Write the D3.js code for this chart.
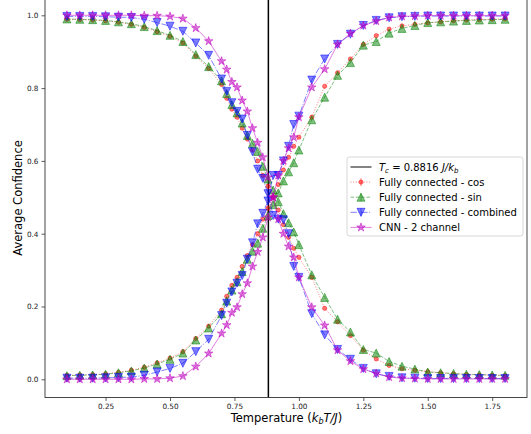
<!DOCTYPE html>
<html>
<head>
<meta charset="utf-8">
<script src="https://cdn.jsdelivr.net/npm/d3@7"></script>
<style>
  body { margin: 0; background: #fff; }
  svg { display: block; }
  text { font-family: "DejaVu Sans", sans-serif; }
</style>
</head>
<body>
<svg id="chart" width="531" height="434"></svg>
<script>
// Temperatures sampled (finer spacing around the critical point)
const temperatures = [0.10,0.15,0.20,0.25,0.30,0.35,0.40,0.45,0.50,0.55,0.60,0.65,0.70,0.72,0.74,0.76,0.78,0.80,0.82,0.84,0.86,0.88,0.90,0.92,0.94,0.96,0.98,1.00,1.05,1.10,1.15,1.20,1.25,1.30,1.35,1.40,1.45,1.50,1.55,1.60,1.65,1.70,1.75,1.80];

// Fully connected - cos : confidence for the ordered (low) and disordered (high) phase
const cosLow  = [.989,.988,.987,.985,.981,.975,.967,.955,.942,.924,.888,.854,.810,.772,.742,.720,.690,.660,.630,.600,.560,.530,.500,.465,.425,.390,.360,.335,.280,.195,.158,.120,.080,.056,.038,.029,.025,.021,.018,.015,.013,.012,.011,.010];
const cosHigh = [.011,.012,.013,.015,.019,.025,.033,.045,.058,.076,.112,.146,.190,.228,.258,.280,.310,.340,.370,.400,.440,.470,.500,.535,.575,.610,.640,.665,.720,.805,.842,.880,.920,.944,.962,.971,.975,.979,.982,.985,.987,.988,.989,.990];

// Fully connected - sin
const sinLow  = [.990,.989,.988,.986,.982,.977,.969,.958,.945,.928,.892,.859,.820,.785,.755,.732,.704,.670,.648,.626,.585,.550,.520,.488,.455,.430,.405,.370,.287,.225,.165,.130,.082,.072,.049,.036,.028,.020,.018,.016,.014,.013,.012,.011];
const sinHigh = [.010,.011,.012,.014,.018,.023,.031,.042,.055,.072,.108,.141,.180,.215,.245,.268,.296,.330,.352,.374,.415,.450,.480,.512,.545,.570,.595,.630,.713,.775,.835,.870,.918,.928,.951,.964,.972,.980,.982,.984,.986,.987,.988,.989];

// Fully connected - combined
const combLow  = [.997,.997,.997,.996,.995,.994,.989,.980,.970,.956,.924,.890,.825,.791,.760,.736,.715,.670,.625,.577,.552,.510,.450,.440,.438,.400,.310,.280,.180,.122,.082,.055,.030,.015,.008,.004,.003,.002,.002,.002,.002,.002,.002,.002];
const combHigh = [.003,.003,.003,.004,.005,.006,.011,.020,.030,.044,.076,.110,.175,.209,.240,.264,.285,.330,.375,.427,.456,.490,.560,.560,.600,.640,.700,.723,.822,.880,.920,.948,.972,.986,.993,.996,.997,.998,.998,.998,.998,.998,.998,.998];

// CNN - 2 channel
const cnnLow  = [1.000,1.000,1.000,1.000,1.000,1.000,.999,.999,.997,.991,.965,.929,.874,.851,.817,.802,.766,.736,.690,.650,.610,.555,.500,.440,.400,.365,.335,.280,.198,.148,.080,.050,.028,.016,.006,.003,.002,.001,.001,.001,.001,.001,.001,.001];
const cnnHigh = [.000,.000,.000,.000,.000,.000,.001,.001,.003,.009,.035,.071,.126,.149,.183,.198,.234,.264,.310,.350,.390,.445,.500,.560,.600,.635,.665,.720,.802,.852,.920,.950,.972,.984,.994,.997,.998,.999,.999,.999,.999,.999,.999,.999];

const criticalT = 0.8816;
const xTickValues = [0.25, 0.50, 0.75, 1.00, 1.25, 1.50, 1.75];
const yTickValues = [0.0, 0.2, 0.4, 0.6, 0.8, 1.0];
const seriesNames = ["Fully connected - cos", "Fully connected - sin", "Fully connected - combined", "CNN - 2 channel"];

const svg = d3.select("#chart");

const x = d3.scaleLinear().domain([0.015, 1.885]).range([45, 527]);
const y = d3.scaleLinear().domain([-0.05, 1.05]).range([397.5, -2.9]);

// marker shapes
function triUp(s) { const h = s / 2; return `M0,${-h}L${h},${h}L${-h},${h}Z`; }
function triDown(s) { const h = s / 2; return `M0,${h}L${h},${-h}L${-h},${-h}Z`; }
function star(s) {
  const R = s / 2, r = R * 0.381966;
  let p = "";
  for (let i = 0; i < 10; i++) {
    const a = -Math.PI / 2 + i * Math.PI / 5;
    const rr = i % 2 === 0 ? R : r;
    p += (i === 0 ? "M" : "L") + (rr * Math.cos(a)).toFixed(2) + "," + (rr * Math.sin(a)).toFixed(2);
  }
  return p + "Z";
}
function dot(s) { const r = s / 2; return `M${r},0A${r},${r} 0 1,1 ${-r},0A${r},${r} 0 1,1 ${r},0Z`; }

const styles = [
  { color: "#ff0000", dash: "1,1.65", marker: dot(4.2), lw: 1 },
  { color: "#008000", dash: "3.7,1.6", marker: triUp(8), lw: 1 },
  { color: "#0000ff", dash: "6.4,1.6,1,1.6", marker: triDown(8), lw: 1 },
  { color: "#bf00bf", dash: null, marker: star(9), lw: 1 }
];

const seriesData = [
  [cosLow, cosHigh],
  [sinLow, sinHigh],
  [combLow, combHigh],
  [cnnLow, cnnHigh]
];

// clip to the axes area
svg.append("defs").append("clipPath").attr("id", "plotclip")
  .append("rect").attr("x", x.range()[0]).attr("y", 0)
  .attr("width", x.range()[1] - x.range()[0]).attr("height", y.range()[0]);

const plot = svg.append("g").attr("clip-path", "url(#plotclip)");

// critical temperature line
plot.append("line")
  .attr("x1", x(criticalT)).attr("x2", x(criticalT))
  .attr("y1", y(-0.05)).attr("y2", y(1.05))
  .attr("stroke", "#000").attr("stroke-width", 1.5);

const line = d3.line().x(d => x(d[0])).y(d => y(d[1]));

seriesData.forEach((pair, si) => {
  const st = styles[si];
  pair.forEach(vals => {
    const pts = temperatures.map((t, i) => [t, vals[i]]);
    const g = plot.append("g");
    g.append("path")
      .attr("d", line(pts))
      .attr("fill", "none")
      .attr("stroke", st.color)
      .attr("stroke-opacity", 0.5)
      .attr("stroke-width", st.lw)
      .attr("stroke-dasharray", st.dash);
    g.selectAll("path.m").data(pts).enter().append("path")
      .attr("class", "m")
      .attr("d", st.marker)
      .attr("transform", d => `translate(${x(d[0])},${y(d[1])})`)
      .attr("fill", st.color).attr("fill-opacity", 0.5)
      .attr("stroke", st.color).attr("stroke-opacity", 0.5)
      .attr("stroke-width", 1);
  });
});

// axes
const xAxis = svg.append("g").attr("transform", `translate(0,${y(-0.05)})`)
  .call(d3.axisBottom(x).tickValues(xTickValues).tickFormat(d3.format(".2f")).tickSizeOuter(0).tickSize(3.5).tickPadding(3));
const yAxis = svg.append("g").attr("transform", `translate(${x.range()[0]},0)`)
  .call(d3.axisLeft(y).tickValues(yTickValues).tickFormat(d3.format(".1f")).tickSizeOuter(0).tickSize(3.5).tickPadding(3));
[xAxis, yAxis].forEach(a => {
  a.select(".domain").remove();
  a.selectAll(".tick line").attr("stroke", "#333").attr("stroke-width", 0.8);
  a.selectAll(".tick text").attr("fill", "#222").style("font-size", "7.3px").style("font-family", "DejaVu Sans");
});

// spines
const sp = svg.append("g").attr("fill", "none").attr("stroke", "#333").attr("stroke-width", 0.9);
sp.append("rect").attr("x", x.range()[0]).attr("y", y.range()[1])
  .attr("width", x.range()[1] - x.range()[0]).attr("height", y.range()[0] - y.range()[1]);

// axis labels
const xl = svg.append("text").attr("x", 286.5).attr("y", 421.5).attr("text-anchor", "middle")
  .style("font-size", "11.5px").attr("fill", "#000");
xl.append("tspan").text("Temperature (");
xl.append("tspan").text("k").style("font-style", "italic");
xl.append("tspan").text("b").style("font-style", "italic").style("font-size", "8px").attr("dy", 2.5);
xl.append("tspan").text("T/J").style("font-style", "italic").attr("dy", -2.5);
xl.append("tspan").text(")");

svg.append("text").attr("transform", "translate(22,198) rotate(-90)").attr("text-anchor", "middle")
  .style("font-size", "11.5px").attr("fill", "#000").text("Average Confidence");

// legend
const lg = svg.append("g").attr("transform", "translate(347,157)");
lg.append("rect").attr("width", 176).attr("height", 79).attr("rx", 2.5)
  .attr("fill", "#fff").attr("fill-opacity", 0.8).attr("stroke", "#cccccc").attr("stroke-width", 0.8);

const rowY = i => 10 + i * 15.1;
// critical temperature entry
lg.append("line").attr("x1", 3.5).attr("x2", 24.5).attr("y1", rowY(0)).attr("y2", rowY(0))
  .attr("stroke", "#000").attr("stroke-width", 1.5).attr("stroke-opacity", 0.65);
const t0 = lg.append("text").attr("x", 32).attr("y", rowY(0) + 3.6).style("font-size", "10px").attr("fill", "#000");
t0.append("tspan").text("T").style("font-style", "italic");
t0.append("tspan").text("c").style("font-style", "italic").style("font-size", "7px").attr("dy", 2.2);
t0.append("tspan").text(" = 0.8816 ").attr("dy", -2.2);
t0.append("tspan").text("J/k").style("font-style", "italic");
t0.append("tspan").text("b").style("font-style", "italic").style("font-size", "7px").attr("dy", 2.2);

seriesNames.forEach((name, i) => {
  const st = styles[i];
  const yy = rowY(i + 1);
  const g = lg.append("g");
  g.append("line").attr("x1", 3.5).attr("x2", 24.5).attr("y1", yy).attr("y2", yy)
    .attr("stroke", st.color).attr("stroke-opacity", 0.5).attr("stroke-width", 1)
    .attr("stroke-dasharray", st.dash);
  if (i < 3) {
    g.append("line").attr("x1", 14).attr("x2", 14).attr("y1", yy - 4).attr("y2", yy + 4)
      .attr("stroke", st.color).attr("stroke-opacity", 0.5).attr("stroke-width", 1);
  }
  g.append("path").attr("d", st.marker).attr("transform", `translate(14,${yy})`)
    .attr("fill", st.color).attr("fill-opacity", 0.5)
    .attr("stroke", st.color).attr("stroke-opacity", 0.5).attr("stroke-width", 1);
  g.append("text").attr("x", 32).attr("y", yy + 3.6).style("font-size", "10px").attr("fill", "#000").text(name);
});
</script>
</body>
</html>
